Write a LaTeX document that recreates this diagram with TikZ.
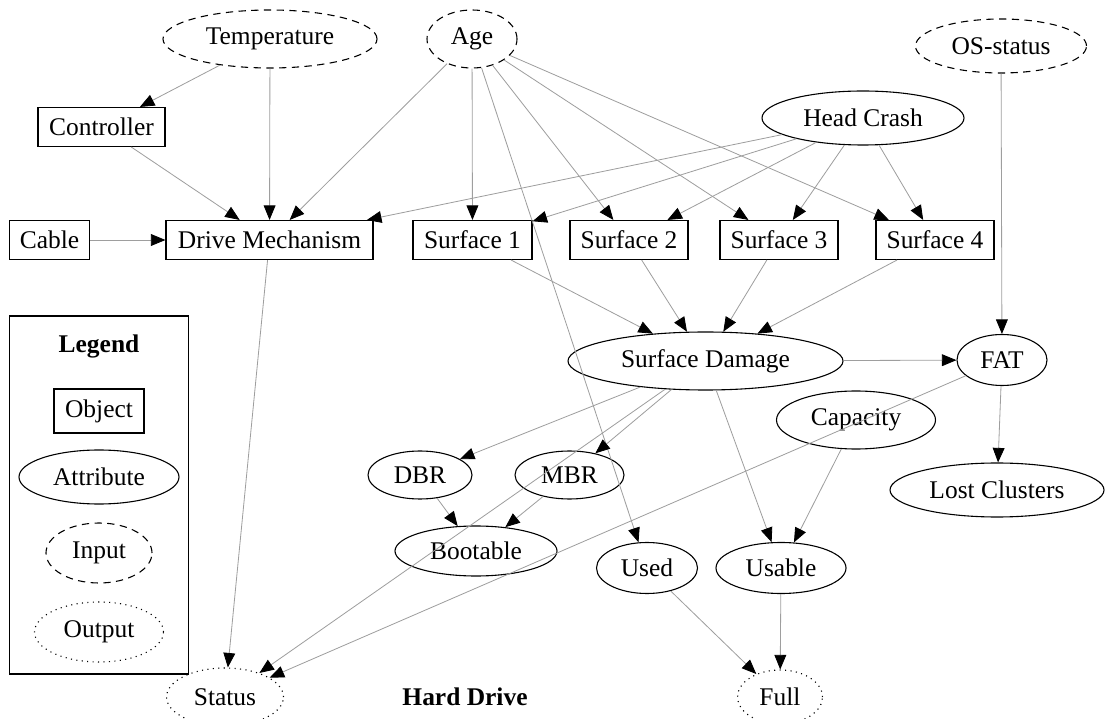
\documentclass[tikz,border=0pt]{standalone}
\usepackage{fontspec}
\setmainfont{Liberation Serif}
\usetikzlibrary{shapes.geometric,arrows.meta}

\begin{document}
\begin{tikzpicture}[x=0.55pt,y=-0.55pt,
  every node/.style={font=\fontsize{14}{16}\selectfont, inner sep=0pt},
  sz/.style 2 args={minimum width=#1*0.55pt, minimum height=#2*0.55pt},
  object/.style={draw, rectangle, line width=0.6pt},
  attribute/.style={draw, ellipse, line width=0.6pt},
  input/.style={attribute, dash pattern=on 4pt off 3pt},
  output/.style={attribute, dash pattern=on 0.6pt off 2.4pt},
  link/.style={draw=black!38, line width=0.45pt,
    -{Triangle[length=8pt,width=6.5pt,color=black]}},
]
\clip (0,0) rectangle (1105,719);
\useasboundingbox (0,0) rectangle (1105,719);

% inputs
\node[input, sz={214}{58}] (temp) at (270,39) {Temperature};
\node[input, sz={90}{58}]  (age)  at (472,39) {Age};
\node[input, sz={171}{54}] (os)   at (1001,46) {OS-status};

% objects
\node[object, sz={127}{39}] (ctrl)  at (101.5,127) {Controller};
\node[object, sz={80}{39}]  (cable) at (49.5,240) {Cable};
\node[object, sz={207}{39}] (dm)    at (269.5,240) {Drive Mechanism};
\node[object, sz={119}{39}] (s1)    at (472.5,240) {Surface 1};
\node[object, sz={118}{39}] (s2)    at (629,240) {Surface 2};
\node[object, sz={118}{39}] (s3)    at (779,240) {Surface 3};
\node[object, sz={118}{39}] (s4)    at (935,240) {Surface 4};

% attributes
\node[attribute, sz={202}{54}] (head)  at (863,118) {Head Crash};
\node[attribute, sz={275}{58}] (sd)    at (705.5,361) {Surface Damage};
\node[attribute, sz={90}{51}]  (fat)   at (1002,360) {FAT};
\node[attribute, sz={159}{58}] (cap)   at (856,420) {Capacity};
\node[attribute, sz={104}{48}] (dbr)   at (420,475) {DBR};
\node[attribute, sz={109}{48}] (mbr)   at (569.5,475) {MBR};
\node[attribute, sz={214}{54}] (lost)  at (997,490) {Lost Clusters};
\node[attribute, sz={162}{50}] (boot)  at (476,551) {Bootable};
\node[attribute, sz={101}{51}] (used)  at (647,568) {Used};
\node[attribute, sz={130}{51}] (usable) at (781,568) {Usable};

% outputs
\node[output, sz={117}{58}] (status) at (225,697) {Status};
\node[output, sz={85}{54}]  (full)   at (780,697) {Full};

\node[font=\fontsize{14}{16}\selectfont\bfseries] (title) at (465,697) {Hard Drive};

% legend
\node[draw, line width=0.6pt, sz={179}{358}] (legend) at (99.1,495) {};
\node[font=\fontsize{14}{16}\selectfont\bfseries] (legendtitle) at (99,346) {Legend};
\node[object, sz={90}{44}]     (lobj)  at (99,411) {Object};
\node[attribute, sz={160}{54}] (lattr) at (99,477) {Attribute};
\node[input, sz={106}{60}]     (linp)  at (99,553) {Input};
\node[output, sz={129}{60}]    (lout)  at (99,632) {Output};

% influences
\foreach \a/\b in {temp/ctrl, temp/dm, ctrl/dm, age/dm, cable/dm, head/dm,
    age/s1, age/s2, age/s3, age/s4, age/used,
    head/s1, head/s2, head/s3, head/s4,
    s1/sd, s2/sd, s3/sd, s4/sd, sd/fat, os/fat, fat/lost, fat/status,
    sd/dbr, sd/mbr, sd/status, sd/usable, cap/usable,
    dbr/boot, mbr/boot, used/full, usable/full, dm/status}
  \draw[link] (\a) -- (\b);
\end{tikzpicture}
\end{document}
